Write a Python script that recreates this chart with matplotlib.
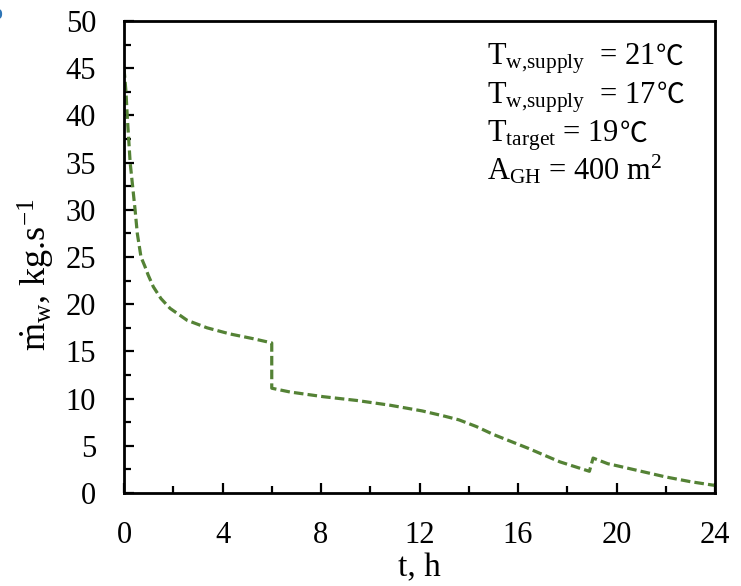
import matplotlib
matplotlib.use("Agg")
import matplotlib.pyplot as plt
from matplotlib.ticker import MultipleLocator

plt.rcParams['font.family'] = ['Liberation Serif', 'Noto Sans CJK SC', 'DejaVu Serif']
plt.rcParams['mathtext.fontset'] = 'custom'
plt.rcParams['mathtext.rm'] = 'Liberation Serif'
plt.rcParams['mathtext.it'] = 'Liberation Serif'
plt.rcParams['mathtext.bf'] = 'Liberation Serif:bold'

# Data
t_hours = [0, 0.08, 0.13, 0.19, 0.25, 0.35, 0.45, 0.54, 0.69, 0.85, 0.98, 1.19, 1.5,
           1.87, 2.56, 3.37, 4.3, 5.24, 6.0, 6.0, 6.74, 8.1, 9.46, 10.8, 12.1,
           13.0, 13.6, 14.3, 15.0, 16.4, 17.7, 18.9, 19.05, 19.65, 20, 21, 22, 23, 24]
m_flow = [45, 42.5, 40, 37.5, 35, 32.5, 30, 27.5, 25, 24.0, 23.1, 21.85, 20.6,
          19.56, 18.3, 17.5, 16.85, 16.35, 15.9, 11.1, 10.7, 10.2, 9.8, 9.3, 8.7,
          8.15, 7.75, 7.05, 6.2, 4.75, 3.3, 2.3, 3.7, 3.1, 2.9, 2.3, 1.7, 1.2, 0.8]

x_ticks = [0, 4, 8, 12, 16, 20, 24]
y_ticks = [0, 5, 10, 15, 20, 25, 30, 35, 40, 45, 50]
legend_main = [r'T$_{\mathrm{w{,}supply}}$  = 21',
               r'T$_{\mathrm{w{,}supply}}$  = 17',
               r'T$_{\mathrm{target}}$ = 19',
               r'A$_{\mathrm{GH}}$ = 400 m$^{2}$']
legend_unit = ['℃', '℃', '℃', '']

fig = plt.figure(figsize=(7.41, 5.86), dpi=100)
ax = fig.add_axes([124/741, 93/586, (715-124)/741, (493-21)/586])

ax.plot(t_hours, m_flow, color='#548235', lw=2.3, linestyle=(0, (3, 1.3)))

ax.set_xlim(0, 24)
ax.set_ylim(0, 50)
ax.set_xticks(x_ticks)
ax.set_yticks(y_ticks)
ax.xaxis.set_minor_locator(MultipleLocator(2))
ax.yaxis.set_minor_locator(MultipleLocator(2.5))
ax.tick_params(which='major', direction='in', length=7, width=1.6, labelsize=22)
ax.tick_params(which='minor', direction='in', length=5, width=1.6)
ax.tick_params(axis='x', which='major', pad=20)
ax.tick_params(axis='y', which='major', pad=20)
for s in ax.spines.values():
    s.set_linewidth(2)

ax.set_xlabel('t, h', fontsize=24)
ax.xaxis.set_label_coords(0.5, (493 - 553) / 472)
ax.xaxis.label.set_va('top')
ax.set_ylabel(r'$\dot{\mathrm{m}}_{\mathrm{w}}$, kg.s$^{\mathrm{-1}}$', fontsize=26)
ax.yaxis.set_label_coords((57 - 124) / 591, (493 - 275) / 472)

texts = []
for i, txt in enumerate(legend_main):
    t = ax.text(0.614, (493 - 65) / 472 - i * 0.081, txt, transform=ax.transAxes,
                fontsize=22, va='baseline', ha='left')
    texts.append(t)

fig.canvas.draw()
r = fig.canvas.get_renderer()
for t, unit in zip(texts, legend_unit):
    if not unit:
        continue
    bb = t.get_window_extent(renderer=r)
    x_disp = bb.x1 + 1
    y_axes = t.get_position()[1]
    y_disp = ax.transAxes.transform((0, y_axes))[1]
    ax.text(x_disp, y_disp, unit, transform=None, fontsize=20,
            va='baseline', ha='left', family=['Noto Sans CJK SC'])

fig.text(-0.012, 0.99, 'b', color='#2E75B6', fontsize=14, fontweight='bold',
         va='top', ha='left', family=['Liberation Sans'])

fig.savefig('out.png', dpi=100)
